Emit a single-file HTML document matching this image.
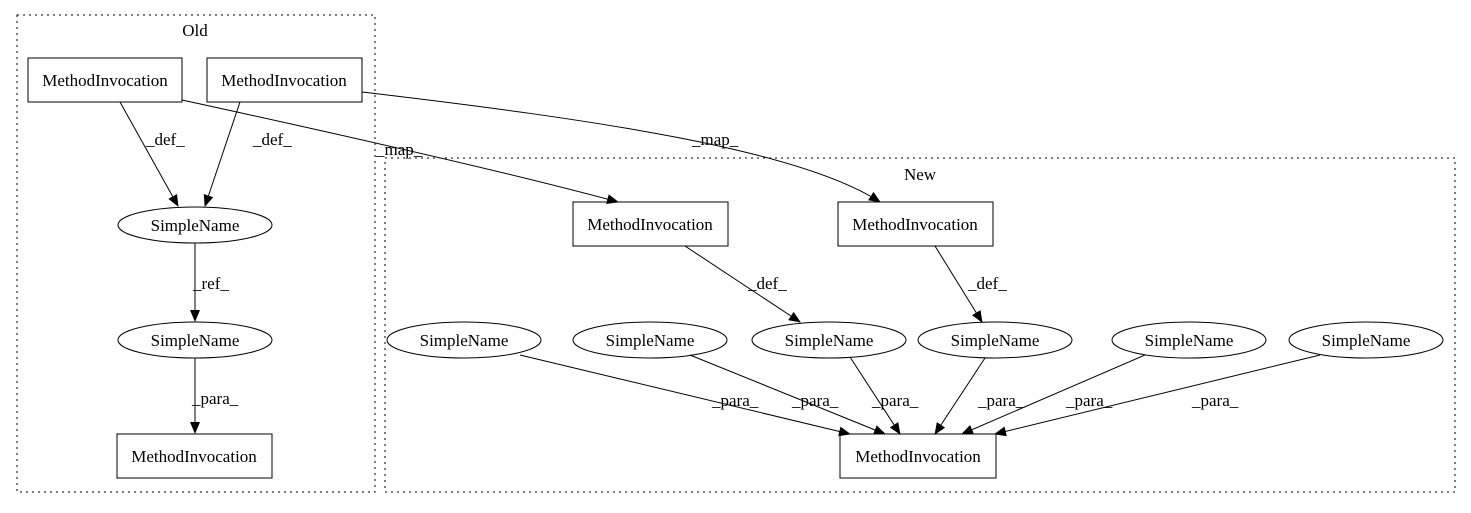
<!DOCTYPE html>
<html><head><meta charset="utf-8"><style>
html,body{margin:0;padding:0;background:#fff;}
svg text{font-family:"Liberation Serif",serif;font-size:17px;fill:#000;}
</style></head><body>
<svg width="1471" height="508" viewBox="0 0 1471 508" xmlns="http://www.w3.org/2000/svg">
<defs><marker id="a" markerWidth="12" markerHeight="10" refX="11" refY="5" orient="auto" markerUnits="userSpaceOnUse"><path d="M0,0 L12,5 L0,10 z" fill="#000"/></marker></defs>
<g fill="none" stroke="#000" stroke-dasharray="2,4">
<rect x="17" y="15" width="358" height="477"/>
<rect x="385" y="158" width="1070" height="334"/>
</g>
<text x="195" y="36" text-anchor="middle">Old</text>
<text x="920" y="180" text-anchor="middle">New</text>
<g fill="#fff" stroke="#000" stroke-width="1">
<rect x="28" y="58" width="154" height="44"/>
<rect x="207" y="58" width="155" height="44"/>
<ellipse cx="195" cy="225" rx="77" ry="18"/>
<ellipse cx="195" cy="340" rx="77" ry="18"/>
<rect x="117" y="434" width="155" height="44"/>
<rect x="573" y="202" width="155" height="44"/>
<rect x="838" y="202" width="155" height="44"/>
<ellipse cx="464" cy="340" rx="77" ry="18"/>
<ellipse cx="650" cy="340" rx="77" ry="18"/>
<ellipse cx="829" cy="340" rx="77" ry="18"/>
<ellipse cx="995" cy="340" rx="77" ry="18"/>
<ellipse cx="1189" cy="340" rx="77" ry="18"/>
<ellipse cx="1366" cy="340" rx="77" ry="18"/>
<rect x="840" y="434" width="156" height="44"/>
</g>
<g text-anchor="middle">
<text x="105" y="86">MethodInvocation</text>
<text x="284" y="86">MethodInvocation</text>
<text x="195" y="231">SimpleName</text>
<text x="195" y="346">SimpleName</text>
<text x="194" y="462">MethodInvocation</text>
<text x="650" y="230">MethodInvocation</text>
<text x="915" y="230">MethodInvocation</text>
<text x="464" y="346">SimpleName</text>
<text x="650" y="346">SimpleName</text>
<text x="829" y="346">SimpleName</text>
<text x="995" y="346">SimpleName</text>
<text x="1189" y="346">SimpleName</text>
<text x="1366" y="346">SimpleName</text>
<text x="918" y="462">MethodInvocation</text>
</g>
<g fill="none" stroke="#000" marker-end="url(#a)">
<path d="M120,102 L178,206"/>
<path d="M240,102 L205,206"/>
<path d="M182,100 C320,130 500,170 618,202"/>
<path d="M362,92 C600,120 800,150 880,202"/>
<path d="M195,243 L195,321"/>
<path d="M195,358 L195,433"/>
<path d="M685,246 L800,322"/>
<path d="M935,246 L982,322"/>
<path d="M520,355 L850,434"/>
<path d="M690,355 L885,434"/>
<path d="M850,357 L900,434"/>
<path d="M985,358 L935,434"/>
<path d="M1145,355 L962,434"/>
<path d="M1320,355 L995,434"/>
</g>
<g>
<text x="146" y="145">_def_</text>
<text x="253" y="145">_def_</text>
<text x="376" y="155">_map_</text>
<text x="692" y="145">_map_</text>
<text x="193" y="289">_ref_</text>
<text x="192" y="404">_para_</text>
<text x="748" y="289">_def_</text>
<text x="968" y="289">_def_</text>
<text x="712" y="406">_para_</text>
<text x="792" y="406">_para_</text>
<text x="872" y="406">_para_</text>
<text x="978" y="406">_para_</text>
<text x="1066" y="406">_para_</text>
<text x="1192" y="406">_para_</text>
</g>
</svg>
</body></html>
